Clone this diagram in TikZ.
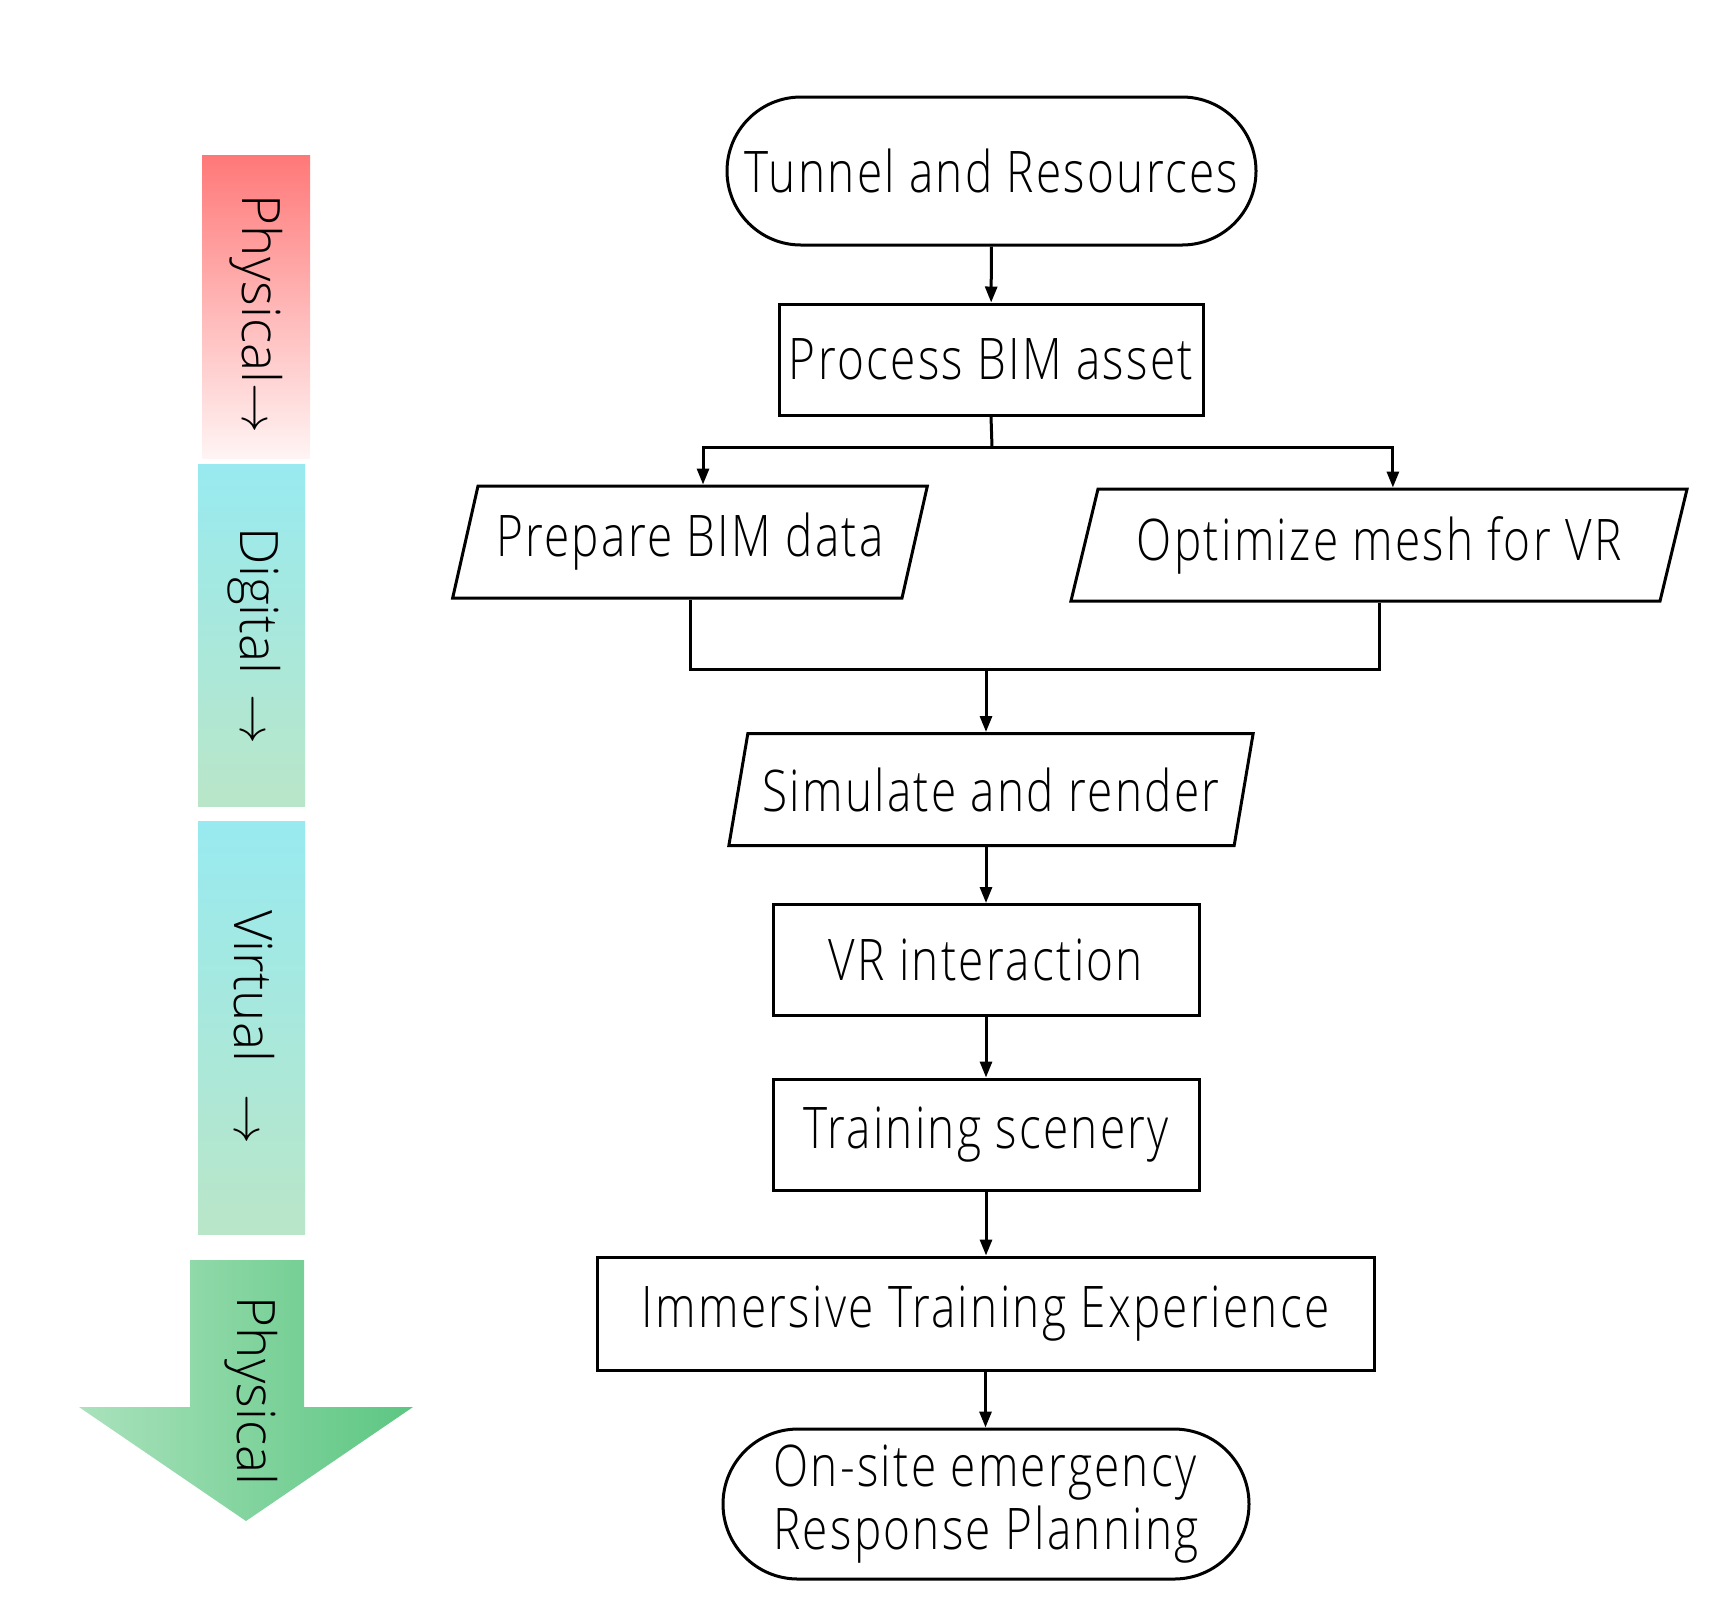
\documentclass[tikz,border=0pt]{standalone}
\usepackage{fontspec}
\setmainfont{Open Sans}[UprightFont=* Light,FakeStretch=0.80,LetterSpace=4]
\newfontfamily\barfont{Open Sans}[UprightFont=* Light]
\usetikzlibrary{shapes.geometric,shapes.misc,arrows.meta}
\definecolor{physred}{RGB}{255,120,120}
\definecolor{physpale}{RGB}{255,244,244}
\definecolor{digicyan}{RGB}{152,234,240}
\definecolor{digigreen}{RGB}{185,230,200}
\definecolor{arrlight}{RGB}{170,226,188}
\definecolor{arrdark}{RGB}{92,198,130}

\begin{document}
\begin{tikzpicture}[x=0.5pt,y=0.5pt,yscale=-1,xscale=1,
	every node/.style={font=\fontsize{28.7}{31.5}\selectfont},
	flowbox/.style={draw,line width=1.5pt,rectangle,minimum height=55.5pt,inner sep=0pt},
	termbox/.style={draw,line width=1.5pt,rounded rectangle,inner sep=0pt},
	iobox/.style={draw,line width=1.5pt,trapezium,trapezium left angle=68,trapezium right angle=112,trapezium stretches=true,minimum height=56pt,inner sep=0pt},
	flowline/.style={line width=1.5pt},
	flowarrow/.style={line width=1.5pt,-{Triangle[length=8pt,width=6pt]}},
	barlabel/.style={rotate=-90,font=\barfont\fontsize{26.5}{30}\selectfont}]
	\useasboundingbox (0,0) rectangle (1728,1619);
	% stage bars on the left
	\shade [top color=physred,bottom color=physpale] (202,155) rectangle (310,458);
	\shade [top color=digicyan,bottom color=digigreen] (198,464) rectangle (305,806);
	\shade [top color=digicyan,bottom color=digigreen] (198,821) rectangle (305,1234);
	\shade [left color=arrlight,right color=arrdark] (190,1260) -- (304,1260) -- (304,1407) -- (413,1407) -- (246,1521) -- (79,1407) -- (190,1407) -- cycle;
	\node [barlabel] (physin) at (256,314) {Physical$\rightarrow$};
	\node [barlabel] (digi) at (254,636) {Digital\hspace{10pt}$\rightarrow$};
	\node [barlabel] (virt) at (254,1027) {Virtual\hspace{16pt}$\rightarrow$};
	\node [barlabel] (physout) at (251,1391) {Physical};
	% flow chart
	\node [termbox,minimum width=264.5pt,minimum height=74pt] (tun) at (991.5,171) {Tunnel and Resources};
	\node [flowbox,minimum width=212pt] (pba) at (991,359.5) {Process BIM asset};
	\node [iobox,minimum width=238pt] (prep) at (690,542) {Prepare BIM data};
	\node [iobox,minimum width=309pt] (opt) at (1379,545) {Optimize mesh for VR};
	\node [iobox,minimum width=263pt] (sim) at (991,789.5) {Simulate and render};
	\node [flowbox,minimum width=213pt] (vri) at (986,960) {VR interaction};
	\node [flowbox,minimum width=213pt] (trs) at (986,1134.5) {Training scenery};
	\node [flowbox,minimum width=388.5pt,minimum height=56.5pt] (ite) at (985.5,1313.5) {Immersive Training Experience};
	\node [termbox,minimum width=263pt,minimum height=75pt,align=left] (osp) at (986,1504) {On-site emergency\\Response Planning};
	\coordinate (split) at (992,447);
	\coordinate (merge) at (986,669);
	\draw [flowarrow] (tun) -- (pba);
	\draw [flowline] (pba.south) -- (split);
	\draw [flowarrow] (split) -| (prep.top side);
	\draw [flowarrow] (split) -| (opt.top side);
	\draw [flowline] (prep.south) |- (merge);
	\draw [flowline] (opt.south) |- (merge);
	\draw [flowarrow] (merge) -- (merge |- sim.north);
	\draw [flowarrow] (sim.south -| vri.north) -- (vri.north);
	\draw [flowarrow] (vri) -- (trs);
	\draw [flowarrow] (trs) -- (trs |- ite.north);
	\draw [flowarrow] (ite) -- (ite |- osp.north);
\end{tikzpicture}
\end{document}
